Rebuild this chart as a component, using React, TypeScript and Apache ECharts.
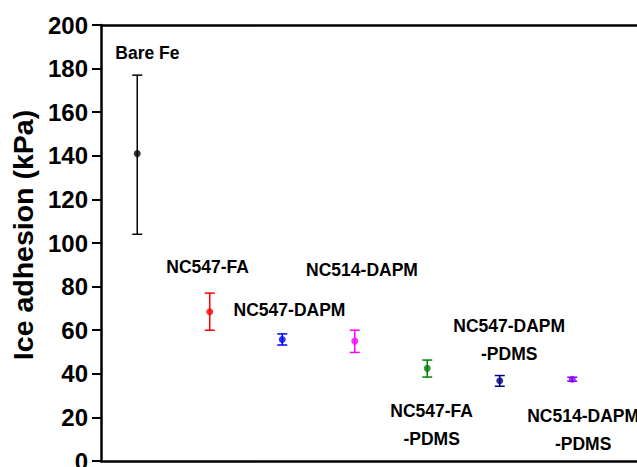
import React, { useEffect, useRef } from "react";
import * as echarts from "echarts";

const samples = ["Bare Fe", "NC547-FA", "NC547-DAPM", "NC514-DAPM", "NC547-FA-PDMS", "NC547-DAPM-PDMS", "NC514-DAPM-PDMS"];
const positions = [1, 2, 3, 4, 5, 6, 7];
const means = [141, 68.5, 55.7, 55.0, 42.5, 36.8, 37.5];
const errLow = [104, 60, 53.2, 49.8, 38.5, 34.3, 36.6];
const errHigh = [177, 77, 58.3, 60.0, 46.3, 39.2, 38.4];
const colors = ["#000000", "#ff0000", "#0000ff", "#ff00ff", "#008000", "#000080", "#8a00ff"];
const yTicks = [0, 20, 40, 60, 80, 100, 120, 140, 160, 180, 200];

// label anchors in data coordinates
const labelTexts = ["Bare Fe", "NC547-FA", "NC547-DAPM", "NC514-DAPM", "NC547-FA\n-PDMS", "NC547-DAPM\n-PDMS", "NC514-DAPM\n-PDMS"];
const labelX = [1.14, 1.97, 3.1, 4.1, 5.06, 6.13, 7.15];
const labelY = [187.3, 89.0, 69.3, 87.6, 16.3, 55.3, 14.4];

export default function App() {
  const ref = useRef<HTMLDivElement>(null);
  useEffect(() => {
    if (!ref.current) return;
    const chart = echarts.init(ref.current, undefined, { renderer: "svg" });
    const font = "Arial, 'Liberation Sans', Helvetica, sans-serif";
    const W = 700;
    const H = 500;
    const left = 101;
    const right = W - 644.75;
    const top = 25;
    const bottom = H - 461;
    chart.setOption({
      animation: false,
      backgroundColor: "#ffffff",
      textStyle: { fontFamily: font },
      grid: { left, right, top, bottom, containLabel: false },
      xAxis: [
        {
          type: "value",
          min: 0.5,
          max: 8,
          position: "bottom",
          axisLine: { show: true, onZero: false, lineStyle: { color: "#000", width: 2.5 } },
          axisTick: { show: false },
          axisLabel: { show: false },
          splitLine: { show: false },
        },
        {
          type: "value",
          min: 0.5,
          max: 8,
          position: "top",
          axisLine: { show: true, onZero: false, lineStyle: { color: "#000", width: 2.5 } },
          axisTick: { show: false },
          axisLabel: { show: false },
          splitLine: { show: false },
        },
      ],
      yAxis: {
        type: "value",
        min: yTicks[0],
        max: yTicks[yTicks.length - 1],
        interval: 20,
        name: "Ice adhesion (kPa)",
        nameLocation: "middle",
        nameGap: 58,
        nameTextStyle: {
          fontSize: 28.5,
          fontWeight: "bold",
          color: "#000",
          fontFamily: font,
          padding: [0, 0, 0, 16],
        },
        axisLine: { show: true, onZero: false, lineStyle: { color: "#000", width: 2.5 } },
        axisTick: { show: true, inside: false, length: 9, lineStyle: { color: "#000", width: 2 } },
        axisLabel: { fontSize: 24, fontWeight: "bold", color: "#000", margin: 13, fontFamily: font },
        splitLine: { show: false },
      },
      series: [
        {
          type: "custom",
          name: "error",
          renderItem: (params: any, api: any) => {
            const x = api.value(0);
            const lo = api.coord([x, api.value(1)]);
            const hi = api.coord([x, api.value(2)]);
            const color = colors[params.dataIndex];
            const cap = 5;
            const style = { stroke: color, lineWidth: 1.5 };
            return {
              type: "group",
              children: [
                { type: "line", shape: { x1: lo[0], y1: lo[1], x2: hi[0], y2: hi[1] }, style },
                { type: "line", shape: { x1: lo[0] - cap, y1: lo[1], x2: lo[0] + cap, y2: lo[1] }, style },
                { type: "line", shape: { x1: hi[0] - cap, y1: hi[1], x2: hi[0] + cap, y2: hi[1] }, style },
              ],
            };
          },
          encode: { x: 0, y: [1, 2] },
          data: positions.map((p, i) => [p, errLow[i], errHigh[i]]),
          silent: true,
          z: 2,
        },
        {
          type: "scatter",
          name: "mean",
          symbol: "circle",
          symbolSize: 7,
          data: positions.map((p, i) => ({ value: [p, means[i]], name: samples[i], itemStyle: { color: colors[i] } })),
          silent: true,
          z: 3,
        },
        {
          type: "scatter",
          name: "labels",
          symbolSize: 0,
          itemStyle: { color: "#000" },
          data: labelTexts.map((t, i) => ({ value: [labelX[i], labelY[i]], name: t })),
          label: {
            show: true,
            position: "inside",
            formatter: (p: any) => p.name,
            fontSize: 17.5,
            fontWeight: "bold",
            color: "#000000",
            opacity: 1,
            textBorderWidth: 0,
            lineHeight: 28,
            align: "center",
            fontFamily: font,
          },
          emphasis: { disabled: true },
          silent: true,
          z: 4,
        },
      ],
    });
    return () => chart.dispose();
  }, []);
  return (
    <div style={{ position: "fixed", left: 0, top: 0, width: 637, height: 467, overflow: "hidden", background: "#fff" }}>
      <div ref={ref} style={{ width: 700, height: 500 }} />
    </div>
  );
}
